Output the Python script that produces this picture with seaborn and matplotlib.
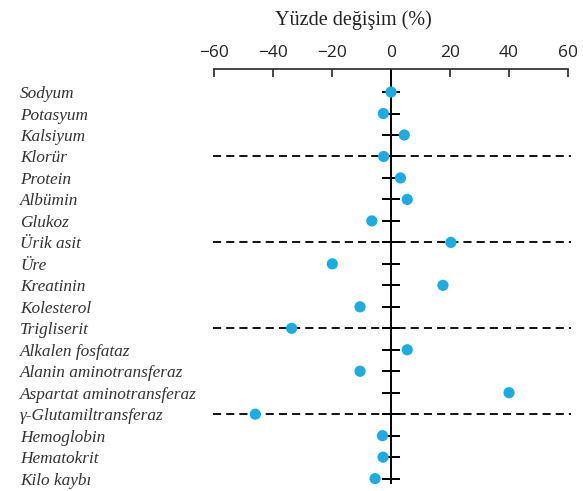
import pandas as pd
import matplotlib
matplotlib.use("Agg")
import matplotlib.pyplot as plt
import seaborn as sns

# data
tests = ['Sodyum', 'Potasyum', 'Kalsiyum', 'Klorür', 'Protein', 'Albümin',
         'Glukoz', 'Ürik asit', 'Üre', 'Kreatinin', 'Kolesterol', 'Trigliserit',
         'Alkalen fosfataz', 'Alanin aminotransferaz', 'Aspartat aminotransferaz',
         'γ-Glutamiltransferaz', 'Hemoglobin', 'Hematokrit', 'Kilo kaybı']
change = [0, -2.6, 4.5, -2.5, 3.2, 5.5, -6.5, 20.3, -19.9, 17.6, -10.5, -33.7,
          5.5, -10.5, 40, -46, -2.9, -2.7, -5.4]
dashed = ['Klorür', 'Ürik asit', 'Trigliserit', 'γ-Glutamiltransferaz']
xticks = [-60, -40, -20, 0, 20, 40, 60]

data = pd.DataFrame({'test': tests, 'change': change})

sns.set_style('white')
fig = plt.figure(figsize=(5.83, 4.91), dpi=100)
ax = fig.add_axes([0.3645, 0.01426, 0.9794 - 0.3645, 0.8589 - 0.01426])

# zero line and little row ticks
ax.axvline(0, color='black', lw=1.4, zorder=1)
ax.hlines(tests, -3.2, 3.2, color='black', lw=1.4, zorder=1)
ax.hlines(dashed, -60.5, 61, color='black', lw=1.3,
          linestyles=(0, (4.5, 2.8)), zorder=1)

sns.scatterplot(data=data, x='change', y='test', color='#1BACE4', s=65,
                edgecolor='none', zorder=3, ax=ax)

ax.set_xlim(-60.5, 61)
ax.set_ylim(18.25, -1.06)

for side in ['left', 'right', 'bottom']:
    ax.spines[side].set_visible(False)
ax.spines['top'].set_bounds(-60, 60)
ax.spines['top'].set_linewidth(1.2)

ax.xaxis.tick_top()
ax.set_xticks(xticks)
ax.set_xticklabels(['\u2212' + str(-v) if v < 0 else str(v) for v in xticks],
                   fontsize=12.5, family='Open Sans', color='#222222')
ax.tick_params(axis='x', direction='in', length=6, width=1.2, pad=6, top=True,
               bottom=False)
ax.set_xlabel('')
ax.set_ylabel('')

ax.tick_params(axis='y', length=0, pad=138.6)
for lab in ax.get_yticklabels():
    lab.set_ha('left')
    lab.set_fontstyle('italic')
    lab.set_family('Liberation Serif')
    lab.set_fontsize(12.4)
    lab.set_color('#333333')

fig.text(353 / 583, 1 - 20 / 491, 'Yüzde değişim (%)', ha='center', va='center',
         family='Liberation Serif', fontsize=14.5, color='#222222')

fig.savefig('out.png', dpi=100)
